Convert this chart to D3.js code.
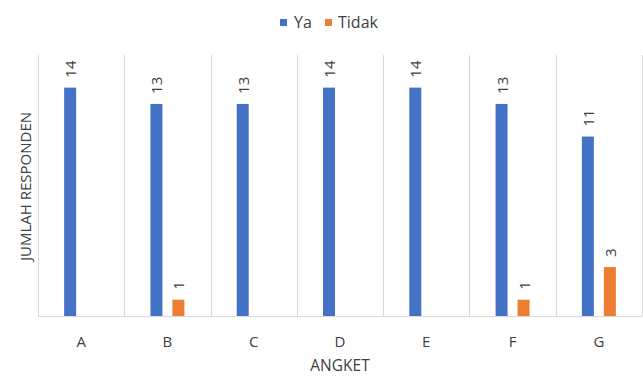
<!DOCTYPE html>
<html><head><meta charset="utf-8">
<script src="https://cdn.jsdelivr.net/npm/d3@7"></script>
<style>body{margin:0;background:#fff}text{font-family:"Open Sans",sans-serif;fill:#404040}</style>
</head><body>
<svg id="c" width="643" height="376"></svg>
<script>
const categories = ["A","B","C","D","E","F","G"];
const seriesNames = ["Ya","Tidak"];
const ya = [14,13,13,14,14,13,11];
const tidak = [null,1,null,null,null,1,3];
const colors = ["#4472C4","#ED7D31"];

const svg = d3.select("#c");
const m = {l:38,r:1,t:55,b:60};
const W = 643, H = 376;
const x = d3.scaleBand().domain(categories).range([m.l, W-m.r]);
const y = d3.scaleLinear().domain([0,16]).range([H-m.b, m.t]);
const inner = d3.scaleBand().domain(seriesNames).range([0, x.bandwidth()]).paddingInner(0.4545).paddingOuter(1.19);

// gridlines (category separators)
const edges = categories.map(c=>x(c)).concat([x(categories[categories.length-1])+x.bandwidth()]);
svg.selectAll(".g").data(edges).enter().append("line")
  .attr("x1",d=>Math.round(d)+0.5).attr("x2",d=>Math.round(d)+0.5)
  .attr("y1",y(16)).attr("y2",y(0)).attr("stroke","#d9d9d9").attr("stroke-width",1);
svg.append("line").attr("x1",m.l).attr("x2",W-m.r).attr("y1",y(0)+0.5).attr("y2",y(0)+0.5)
  .attr("stroke","#d9d9d9");

const data = [];
categories.forEach((c,i)=>{
  [ya,tidak].forEach((arr,j)=>{ if(arr[i]!=null) data.push({c, s:seriesNames[j], v:arr[i], j}); });
});
svg.selectAll(".bar").data(data).enter().append("rect")
  .attr("x",d=>x(d.c)+inner(d.s)).attr("width",inner.bandwidth())
  .attr("y",d=>y(d.v)).attr("height",d=>y(0)-y(d.v)).attr("fill",d=>colors[d.j]);

svg.selectAll(".lbl").data(data).enter().append("text")
  .attr("transform",d=>`translate(${x(d.c)+inner(d.s)+inner.bandwidth()/2+6},${y(d.v)-10}) rotate(-90)`)
  .attr("font-size",15).attr("text-anchor","start").text(d=>d.v);

// x axis labels
svg.selectAll(".xl").data(categories).enter().append("text")
  .attr("x",d=>x(d)+x.bandwidth()/2).attr("y",347).attr("text-anchor","middle")
  .attr("font-size",15).text(d=>d);
svg.append("text").attr("x",(m.l+W-m.r)/2).attr("y",371).attr("text-anchor","middle")
  .attr("font-size",15.5).text("ANGKET");
svg.append("text").attr("transform",`translate(31,${(y(0)+y(16))/2+1}) rotate(-90)`)
  .attr("text-anchor","middle").attr("font-size",15).text("JUMLAH RESPONDEN");

// legend
const lg = svg.append("g");
const items = [{n:"Ya",x:280,tx:294},{n:"Tidak",x:325,tx:338}];
items.forEach((it,i)=>{
  lg.append("rect").attr("x",it.x).attr("y",19).attr("width",7).attr("height",7).attr("fill",colors[i]);
  lg.append("text").attr("x",it.tx).attr("y",28).attr("font-size",16).text(it.n);
});
</script>
</body></html>
